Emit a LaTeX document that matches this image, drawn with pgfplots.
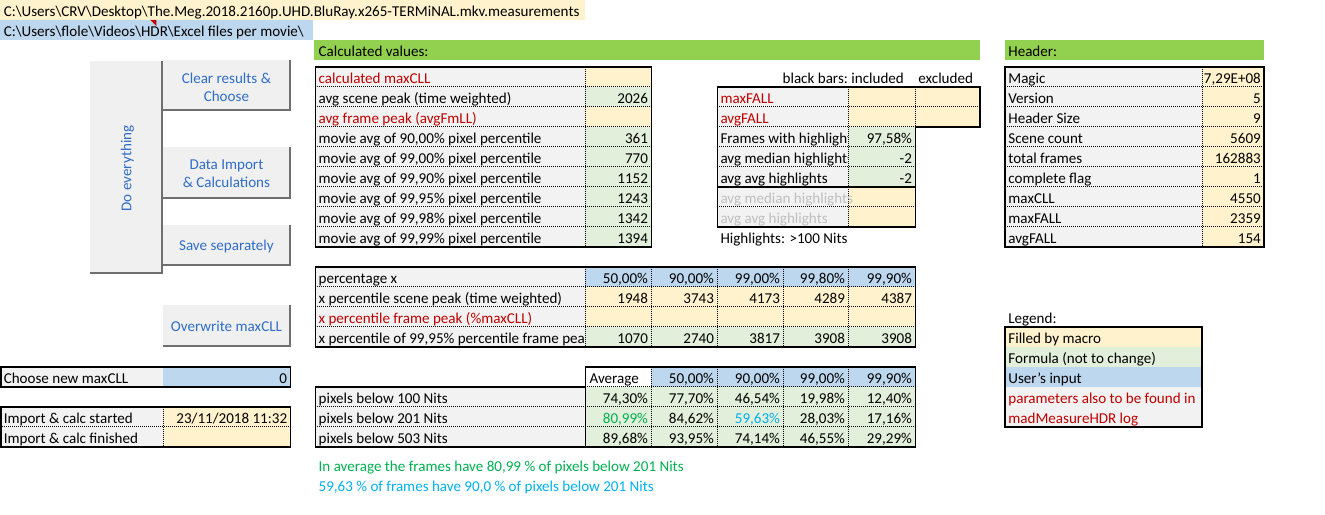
\documentclass[border=0pt]{standalone}
\usepackage{fontspec}
\setmainfont{Carlito}
\usepackage{pgfplots}
\pgfplotsset{compat=1.18}
\definecolor{orng}{HTML}{FFF2CC}
\definecolor{grn}{HTML}{E2EFDA}
\definecolor{blu}{HTML}{BDD7EE}
\definecolor{gry}{HTML}{F2F2F2}
\definecolor{barg}{HTML}{92D050}
\definecolor{xred}{HTML}{C00000}
\definecolor{btn}{HTML}{F0F0F0}
\definecolor{btnsh}{HTML}{6F6F6F}
\definecolor{btnt}{HTML}{2F6DC8}
\definecolor{ltxt}{HTML}{BFBFBF}
\definecolor{gtxt}{HTML}{00B050}
\definecolor{ctxt}{HTML}{00B0F0}
\tikzset{every node/.style={inner sep=0pt, yshift=-1.1pt, font=\fontsize{11.3pt}{13.5pt}\selectfont},
  dt/.style={black, line width=0.75pt, dash pattern=on 0.75pt off 0.75pt},
  sl/.style={black, line width=1pt},
  sh/.style={btnsh, line width=1.5pt}}
\newcommand\F[5]{\fill[#5] (#1,#2) rectangle (#3,#4);}
\newcommand\TL[3]{\node[anchor=base west] at (#1,#2) {#3};}
\newcommand\TR[3]{\node[anchor=base east] at (#1,#2) {#3};}
\newcommand\HD[3]{\draw[dt] (#1,#3) -- (#2,#3);}
\newcommand\VD[3]{\draw[dt] (#3,#1) -- (#3,#2);}
\newcommand\BTN[4]{\fill[btn] (#1,#2) rectangle (#3,#4); \draw[sh] (#3,#2) -- (#3,#4) -- (#1,#4);}
\newcommand\bs{\textbackslash}
\begin{document}
\begin{tikzpicture}
\begin{axis}[scale only axis, width=993.75pt, height=386.25pt,
  xmin=0, xmax=1325, ymin=0, ymax=515, y dir=reverse, hide axis, clip=false]
\path (0,0) rectangle (1325,515);
% top rows
\F{0}{0}{585}{20}{orng}
\TL{3}{15}{C:\bs Users\bs CRV\bs Desktop\bs The.Meg.2018.2160p.UHD.BluRay.x265-TERMiNAL.mkv.measurements}
\F{0}{20}{313}{40}{blu}
\TL{3}{35}{C:\bs Users\bs flole\bs Videos\bs HDR\bs Excel files per movie\bs}
\fill[xred] (150,20) -- (156,20) -- (156,26) -- cycle;
\F{314}{40}{980}{60}{barg}
\TL{318}{55}{Calculated values:}
\F{1005}{40}{1264}{60}{barg}
\TL{1008}{55}{Header:}
% buttons
\BTN{90}{61}{162}{273}
\node[rotate=90, text=btnt] at (127,167) {Do everything};
\BTN{163}{60}{290}{110}
\node[align=center, text=btnt] at (226,86) {Clear results \&\\Choose};
\BTN{163}{147}{290}{198}
\node[align=center, text=btnt] at (226,172) {Data Import\\\& Calculations};
\BTN{163}{225}{290}{265}
\node[text=btnt] at (226,245) {Save separately};
\BTN{163}{305}{290}{346}
\node[text=btnt] at (226,325) {Overwrite maxCLL};
% table 1
\F{315}{67}{585}{247}{gry}
\F{585}{67}{651}{87}{orng}
\F{585}{87}{651}{107}{grn}
\F{585}{107}{651}{127}{orng}
\F{585}{127}{651}{247}{grn}
\HD{315}{651}{87}\HD{315}{651}{107}\HD{315}{651}{127}\HD{315}{651}{147}
\HD{315}{651}{167}\HD{315}{651}{187}\HD{315}{651}{207}\HD{315}{651}{227}
\VD{67}{247}{585}
\draw[sl] (315,67) rectangle (651,247);
\TL{318}{82}{\color{xred}calculated maxCLL}
\TL{318}{102}{avg scene peak (time weighted)}
\TL{318}{122}{\color{xred}avg frame peak (avgFmLL)}
\TL{318}{142}{movie avg of 90,00\% pixel percentile}
\TL{318}{162}{movie avg of 99,00\% pixel percentile}
\TL{318}{182}{movie avg of 99,90\% pixel percentile}
\TL{318}{202}{movie avg of 99,95\% pixel percentile}
\TL{318}{222}{movie avg of 99,98\% pixel percentile}
\TL{318}{242}{movie avg of 99,99\% pixel percentile}
\TR{648}{102}{2026}
\TR{648}{142}{361}
\TR{648}{162}{770}
\TR{648}{182}{1152}
\TR{648}{202}{1243}
\TR{648}{222}{1342}
\TR{648}{242}{1394}
% middle table
\TR{848}{82}{black bars:}
\TL{851}{82}{included}
\TL{918}{82}{excluded}
\F{717}{87}{848}{227}{gry}
\TL{720}{142}{Frames with highlights}
\TL{720}{162}{avg median highlights}
\F{848}{87}{980}{127}{orng}
\F{848}{127}{915}{187}{grn}
\F{848}{187}{915}{227}{orng}
\HD{717}{980}{107}\HD{717}{915}{127}\HD{717}{915}{147}\HD{717}{915}{167}\HD{717}{915}{207}
\VD{87}{227}{848}\VD{87}{127}{915}
\draw[sl] (717,87) -- (980,87) -- (980,127) -- (915,127) -- (915,227) -- (717,227) -- cycle;
\draw[sl] (717,187) -- (915,187);
\TL{720}{102}{\color{xred}maxFALL}
\TL{720}{122}{\color{xred}avgFALL}
\TL{720}{182}{avg avg highlights}
\TL{720}{202}{\color{ltxt}avg median highlights}
\TL{720}{222}{\color{ltxt}avg avg highlights}
\TR{912}{142}{97,58\%}
\TR{912}{162}{-2}
\TR{912}{182}{-2}
\TL{720}{242}{Highlights: >100 Nits}
% header table
\F{1005}{67}{1202}{247}{gry}
\F{1202}{67}{1264}{247}{orng}
\HD{1005}{1264}{87}\HD{1005}{1264}{107}\HD{1005}{1264}{127}\HD{1005}{1264}{147}
\HD{1005}{1264}{167}\HD{1005}{1264}{187}\HD{1005}{1264}{207}\HD{1005}{1264}{227}
\VD{67}{247}{1202}
\draw[sl] (1005,67) rectangle (1264,247);
\TL{1008}{82}{Magic}\TR{1261}{82}{7,29E+08}
\TL{1008}{102}{Version}\TR{1261}{102}{5}
\TL{1008}{122}{Header Size}\TR{1261}{122}{9}
\TL{1008}{142}{Scene count}\TR{1261}{142}{5609}
\TL{1008}{162}{total frames}\TR{1261}{162}{162883}
\TL{1008}{182}{complete flag}\TR{1261}{182}{1}
\TL{1008}{202}{maxCLL}\TR{1261}{202}{4550}
\TL{1008}{222}{maxFALL}\TR{1261}{222}{2359}
\TL{1008}{242}{avgFALL}\TR{1261}{242}{154}
% percentile table
\F{315}{267}{585}{347}{gry}
\TL{318}{342}{x percentile of 99,95\% percentile frame peak}
\F{585}{267}{915}{287}{blu}
\F{585}{287}{915}{327}{orng}
\F{585}{327}{915}{347}{grn}
\HD{315}{915}{287}\HD{315}{915}{307}\HD{315}{915}{327}
\VD{267}{347}{585}\VD{267}{347}{651}\VD{267}{347}{717}\VD{267}{347}{783}\VD{267}{347}{848}
\draw[sl] (315,267) rectangle (915,347);
\TL{318}{282}{percentage x}
\TL{318}{302}{x percentile scene peak (time weighted)}
\TL{318}{322}{\color{xred}x percentile frame peak (\%maxCLL)}
\TR{648}{282}{50,00\%}\TR{714}{282}{90,00\%}\TR{780}{282}{99,00\%}\TR{845}{282}{99,80\%}\TR{912}{282}{99,90\%}
\TR{648}{302}{1948}\TR{714}{302}{3743}\TR{780}{302}{4173}\TR{845}{302}{4289}\TR{912}{302}{4387}
\TR{648}{342}{1070}\TR{714}{342}{2740}\TR{780}{342}{3817}\TR{845}{342}{3908}\TR{912}{342}{3908}
% bottom left
\F{0}{367}{163}{387}{gry}
\F{163}{367}{290}{387}{blu}
\draw[sl] (0.5,367) rectangle (290,387);
\TL{3}{382}{Choose new maxCLL}
\TR{287}{382}{0}
\F{0}{407}{163}{447}{gry}
\F{163}{407}{290}{447}{orng}
\HD{0}{290}{427}\VD{407}{447}{163}
\draw[sl] (0.5,407) rectangle (290,447);
\TL{3}{422}{Import \& calc started}
\TL{3}{442}{Import \& calc finished}
\TR{287}{422}{23/11/2018 11:32}
% bottom table
\F{651}{367}{915}{387}{blu}
\F{315}{387}{585}{447}{gry}
\F{585}{387}{915}{447}{grn}
\HD{585}{915}{387}\HD{315}{915}{407}\HD{315}{915}{427}
\VD{367}{447}{651}\VD{367}{447}{717}\VD{367}{447}{783}\VD{367}{447}{848}
\draw[sl] (585,387) -- (585,367) -- (915,367) -- (915,447) -- (315,447) -- (315,387) -- (585,387) -- (585,447);
\TL{589}{382}{Average}
\TR{714}{382}{50,00\%}\TR{780}{382}{90,00\%}\TR{845}{382}{99,00\%}\TR{912}{382}{99,90\%}
\TL{318}{402}{pixels below 100 Nits}
\TL{318}{422}{pixels below 201 Nits}
\TL{318}{442}{pixels below 503 Nits}
\TR{648}{402}{74,30\%}\TR{714}{402}{77,70\%}\TR{780}{402}{46,54\%}\TR{845}{402}{19,98\%}\TR{912}{402}{12,40\%}
\TR{648}{422}{\color{gtxt}80,99\%}\TR{714}{422}{84,62\%}\TR{780}{422}{\color{ctxt}59,63\%}\TR{845}{422}{28,03\%}\TR{912}{422}{17,16\%}
\TR{648}{442}{89,68\%}\TR{714}{442}{93,95\%}\TR{780}{442}{74,14\%}\TR{845}{442}{46,55\%}\TR{912}{442}{29,29\%}
\TL{318}{470}{\color{gtxt}In average the frames have 80,99 \% of pixels below 201 Nits}
\TL{318}{490}{\color{ctxt}59,63 \% of frames have 90,0 \% of pixels below 201 Nits}
% legend
\TL{1008}{322}{Legend:}
\F{1005}{327}{1202}{347}{orng}
\F{1005}{347}{1202}{367}{grn}
\F{1005}{367}{1202}{387}{blu}
\F{1005}{387}{1202}{427}{gry}
\draw[sl] (1005,327) rectangle (1202,427);
\TL{1008}{342}{Filled by macro}
\TL{1008}{362}{Formula (not to change)}
\TL{1008}{382}{User's input}
\TL{1008}{402}{\color{xred}parameters also to be found in}
\TL{1008}{422}{\color{xred}madMeasureHDR log}
\end{axis}
\end{tikzpicture}
\end{document}
